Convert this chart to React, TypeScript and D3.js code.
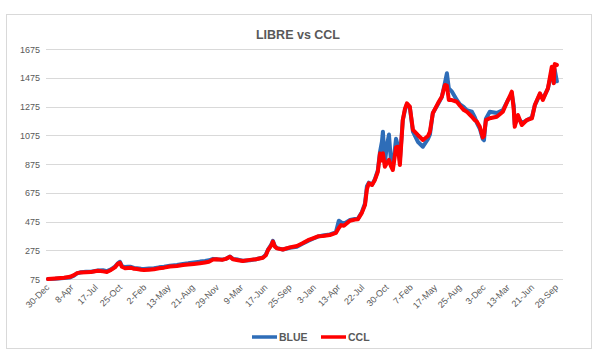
import React from "react";
import * as d3 from "d3";

const dates = ["2019-12-30","2020-01-28","2020-03-05","2020-03-30","2020-04-15","2020-04-28","2020-05-14","2020-06-04","2020-06-24","2020-07-11","2020-07-23","2020-08-13","2020-08-29","2020-09-15","2020-10-01","2020-10-14","2020-10-22","2020-10-30","2020-11-12","2020-11-24","2020-12-06","2020-12-19","2020-12-31","2021-01-17","2021-01-29","2021-02-19","2021-03-11","2021-04-01","2021-04-22","2021-05-16","2021-06-14","2021-07-09","2021-07-30","2021-08-23","2021-09-17","2021-10-08","2021-10-24","2021-11-10","2021-11-26","2021-12-17","2022-01-02","2022-01-19","2022-01-31","2022-02-21","2022-03-13","2022-04-11","2022-05-06","2022-06-04","2022-06-16","2022-06-25","2022-07-07","2022-07-15","2022-07-23","2022-08-01","2022-08-25","2022-09-23","2022-10-22","2022-11-16","2022-12-07","2022-12-27","2023-01-17","2023-02-06","2023-03-07","2023-04-01","2023-04-13","2023-04-22","2023-05-04","2023-05-29","2023-06-18","2023-07-01","2023-07-17","2023-07-30","2023-08-07","2023-08-15","2023-08-28","2023-09-09","2023-09-21","2023-09-30","2023-10-08","2023-10-12","2023-10-20","2023-10-28","2023-11-06","2023-11-14","2023-11-22","2023-12-05","2023-12-13","2023-12-21","2024-01-02","2024-01-11","2024-01-19","2024-01-31","2024-02-13","2024-03-04","2024-03-25","2024-04-15","2024-04-23","2024-05-05","2024-05-26","2024-06-11","2024-06-24","2024-07-02","2024-07-10","2024-07-23","2024-08-12","2024-08-25","2024-09-10","2024-09-22","2024-10-13","2024-10-25","2024-11-03","2024-11-15","2024-11-27","2024-12-02","2024-12-10","2024-12-26","2025-01-24","2025-02-18","2025-03-11","2025-03-27","2025-04-04","2025-04-08","2025-04-21","2025-05-07","2025-05-28","2025-06-18","2025-06-30","2025-07-21","2025-08-02","2025-08-23","2025-09-08","2025-09-16","2025-09-20","2025-09-29"];

const blue = [75,77,82,86,98,114,122,126,125,131,134,136,130,142,160,186,195,165,158,160,160,152,150,146,144,148,150,156,160,168,172,180,184,190,196,200,205,215,212,210,215,232,215,210,202,205,212,225,245,280,310,340,305,290,280,292,300,322,340,355,370,378,385,400,480,470,460,485,492,495,540,600,720,745,730,770,830,960,1030,1100,880,1000,1080,900,850,1050,1000,900,1180,1250,1290,1270,1100,1030,995,1050,1080,1230,1290,1340,1440,1506,1400,1378,1320,1290,1270,1250,1239,1200,1160,1120,1050,1040,1190,1239,1230,1250,1320,1360,1280,1150,1200,1160,1180,1200,1285,1360,1330,1400,1520,1440,1530,1450];

const ccl = [75,79,84,90,102,116,121,122,123,129,133,128,124,138,156,182,188,160,150,152,154,146,144,140,138,140,142,150,154,162,166,172,176,180,184,190,195,210,212,208,215,230,212,206,200,208,212,223,240,277,305,336,300,288,280,295,305,325,345,358,372,374,381,396,430,450,445,480,488,490,535,590,700,740,729,764,821,949,900,950,856,880,903,860,833,990,995,868,1181,1260,1297,1274,1112,1077,1042,1070,1100,1228,1297,1343,1425,1420,1320,1320,1308,1280,1250,1239,1204,1180,1169,1134,1060,1070,1180,1193,1204,1239,1320,1378,1250,1134,1216,1146,1181,1193,1285,1367,1320,1402,1552,1437,1570,1564];

const yTicks = [75, 275, 475, 675, 875, 1075, 1275, 1475, 1675];
const seriesNames = ["BLUE", "CCL"];
const seriesColors = ["#2E6DB8", "#FF0000"];

const W = 599, H = 357;
const plotLeft = 48, plotRight = 562, plotTop = 49, plotBottom = 279;
const parse = d3.timeParse("%Y-%m-%d");
const fmt = d3.timeFormat("%-d-%b");
const FONT = "'Liberation Sans', Arial, sans-serif";

export default function App() {
  const start = parse("2019-12-30")!;
  const end = parse("2025-10-20")!;
  const x = d3.scaleTime().domain([start, end]).range([plotLeft, plotRight]);
  const y = d3.scaleLinear().domain([75, 1675]).range([plotBottom, plotTop]);
  const xTicks = d3.range(0, 22).map((k) => d3.timeDay.offset(start, k * 100));
  const pts = dates.map((d) => parse(d)!);
  const line = d3
    .line<number>()
    .x((_, i) => x(pts[i]))
    .y((v) => y(v));
  const series = [blue, ccl];

  return (
    <svg
      width={W}
      height={H}
      style={{ position: "absolute", left: 0, top: 0, background: "#fff" }}
      fontFamily={FONT}
    >
      <rect x={0} y={0} width={W} height={H} fill="#fff" />
      <rect x={6.5} y={14.5} width={585} height={334} fill="#fff" stroke="#d9d9d9" />
      <text x={298} y={39} textAnchor="middle" fontSize={12.5} fontWeight="bold" fill="#595959">
        LIBRE vs CCL
      </text>
      {yTicks.map((t) => (
        <g key={t}>
          <line x1={46} x2={563} y1={Math.round(y(t)) + 0.5} y2={Math.round(y(t)) + 0.5} stroke="#d9d9d9" />
          <text x={40} y={y(t) + 3.5} textAnchor="end" fontSize={9} fill="#595959">
            {t}
          </text>
        </g>
      ))}
      {xTicks.map((t, i) => (
        <text
          key={i}
          transform={`translate(${x(t) + 2},${plotBottom + 9}) rotate(-45)`}
          textAnchor="end"
          fontSize={9}
          fill="#595959"
        >
          {fmt(t)}
        </text>
      ))}
      {series.map((s, i) => (
        <path
          key={i}
          d={line(s) || ""}
          fill="none"
          stroke={seriesColors[i]}
          strokeWidth={4}
          strokeLinejoin="round"
          strokeLinecap="round"
        />
      ))}
      {seriesNames.map((n, i) => (
        <g key={n} transform={`translate(${252 + i * 69},337)`}>
          <line x1={0} x2={25} y1={0} y2={0} stroke={seriesColors[i]} strokeWidth={3.5} />
          <text x={27} y={4} fontSize={10.5} fontWeight="bold" fill="#595959">
            {n}
          </text>
        </g>
      ))}
    </svg>
  );
}
